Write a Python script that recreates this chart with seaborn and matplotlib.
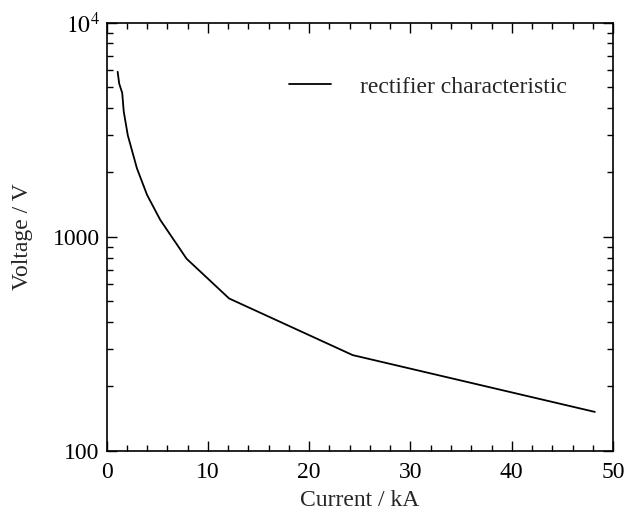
import matplotlib
matplotlib.use("Agg")
import matplotlib.pyplot as plt
import matplotlib.ticker as mticker
import numpy as np
import pandas as pd
import seaborn as sns

# Rectifier operating curve: DC current vs. output voltage
current_ka = [1.1, 1.25, 1.55, 1.7, 2.1, 3.0, 4.0, 5.3, 7.9, 12.1, 24.3, 48.2]
voltage_v = [5900, 5200, 4700, 3850, 2980, 2090, 1570, 1200, 790, 515, 280, 152]
series_name = "rectifier characteristic"

x_ticks = [0, 10, 20, 30, 40, 50]
y_ticks = [100, 1000, 10000]
y_tick_labels = ["100", "1000", r"$10^4$"]

df = pd.DataFrame({"Current / kA": current_ka, "Voltage / V": voltage_v})

sns.set_theme(style="ticks")
plt.rcParams["font.family"] = ["Liberation Serif", "DejaVu Serif"]
plt.rcParams["mathtext.fontset"] = "stix"

fig = plt.figure(figsize=(6.34, 5.17), dpi=100)
ax = fig.add_axes([0.168, 0.128, 0.799, 0.828])

sns.lineplot(data=df, x="Current / kA", y="Voltage / V", ax=ax,
             color="black", linewidth=1.3, label=series_name, sort=False)

ax.set_yscale("log")
ax.set_xlim(0, 50)
ax.set_ylim(100, 10000)
ax.set_xticks(x_ticks)
ax.xaxis.set_minor_locator(mticker.MultipleLocator(2))
ax.set_yticks(y_ticks)
ax.set_yticklabels(y_tick_labels)
ax.yaxis.set_minor_locator(mticker.LogLocator(base=10, subs=np.arange(2, 10)))
ax.yaxis.set_minor_formatter(mticker.NullFormatter())

ax.tick_params(which="both", direction="in", top=True, right=True,
               labelsize=17, colors="black", width=1.0)
ax.tick_params(which="major", length=7)
ax.tick_params(axis="x", which="major", pad=8)
ax.tick_params(axis="y", which="major", pad=5)
ax.tick_params(which="minor", length=4)
for s in ax.spines.values():
    s.set_linewidth(1.2)
    s.set_color("black")

ax.set_xlabel("Current / kA", fontsize=17, labelpad=5)
ax.set_ylabel("Voltage / V", fontsize=17, labelpad=14)

leg = ax.legend(loc="upper right", frameon=False, fontsize=17,
                handlelength=1.8, handletextpad=1.2,
                bbox_to_anchor=(0.95, 0.925))

fig.savefig("out.png", dpi=100)
